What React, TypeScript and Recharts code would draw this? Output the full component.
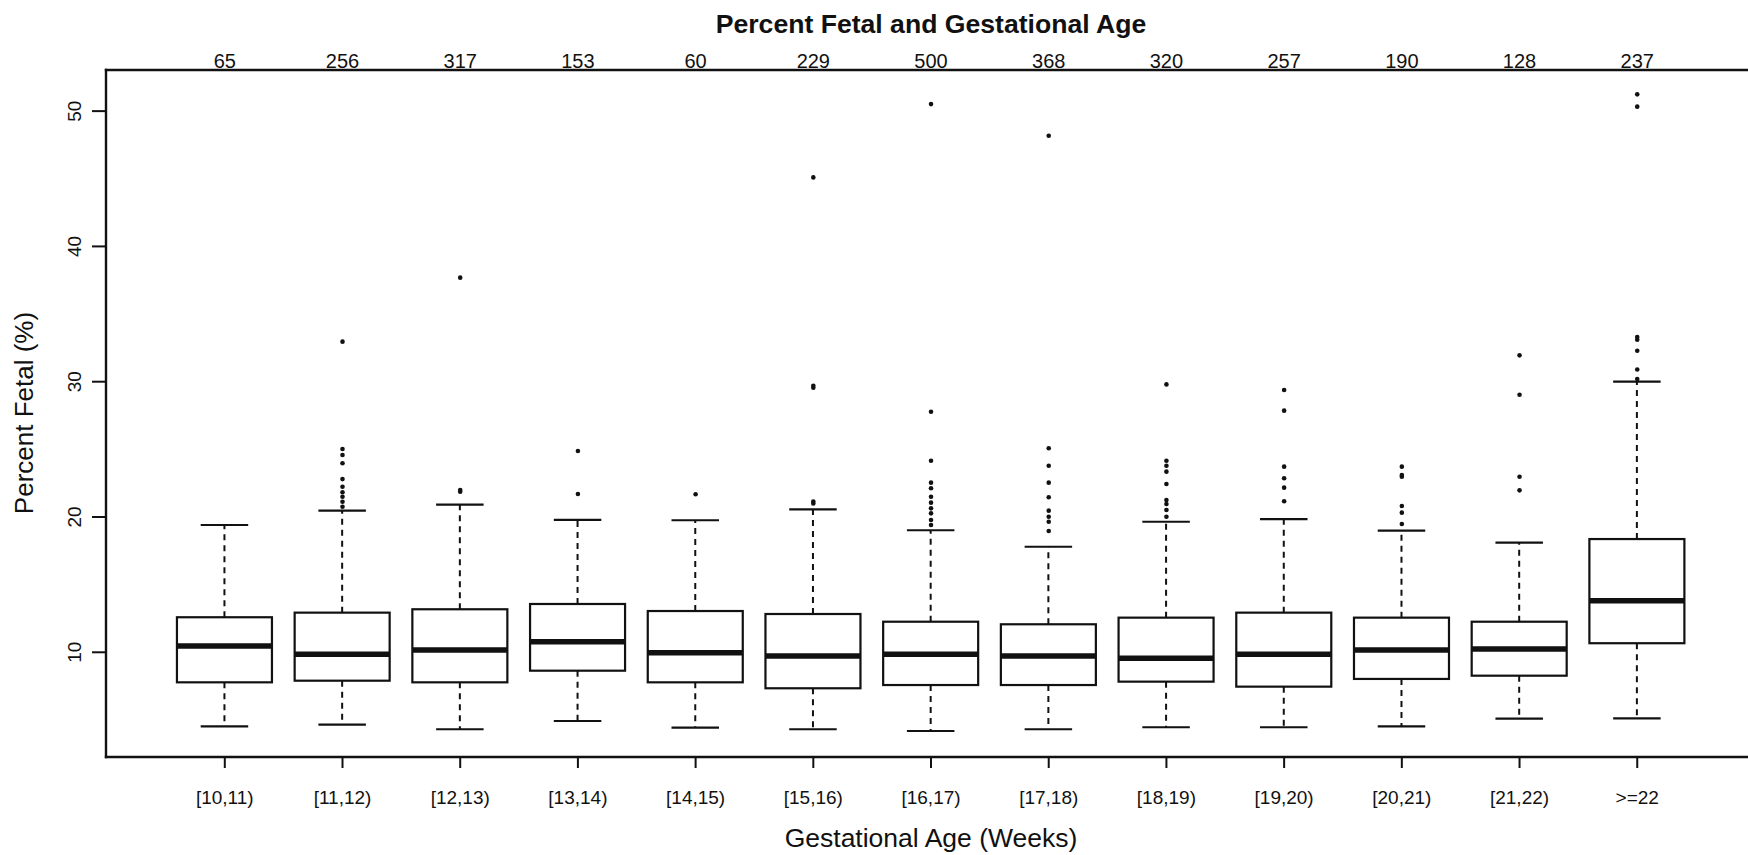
import React from "react";
import { ComposedChart, Bar, Scatter, XAxis, YAxis, Label } from "recharts";

const categories = [
  "[10,11)", "[11,12)", "[12,13)", "[13,14)", "[14,15)", "[15,16)", "[16,17)",
  "[17,18)", "[18,19)", "[19,20)", "[20,21)", "[21,22)", ">=22",
];
const counts = [65, 256, 317, 153, 60, 229, 500, 368, 320, 257, 190, 128, 237];

const lowerWhisker = [4.53, 4.65, 4.31, 4.92, 4.43, 4.31, 4.18, 4.31, 4.46, 4.46, 4.53, 5.09, 5.12];
const lowerQuartile = [7.78, 7.9, 7.78, 8.64, 7.78, 7.34, 7.58, 7.58, 7.83, 7.46, 8.03, 8.27, 10.67];
const medians = [10.47, 9.85, 10.17, 10.78, 9.97, 9.73, 9.85, 9.73, 9.56, 9.85, 10.17, 10.24, 13.81];
const upperQuartile = [12.59, 12.93, 13.18, 13.57, 13.05, 12.83, 12.26, 12.07, 12.56, 12.93, 12.56, 12.26, 18.37];
const upperWhisker = [19.41, 20.47, 20.91, 19.78, 19.76, 20.57, 19.02, 17.8, 19.65, 19.85, 18.99, 18.1, 30.0];

const outliers = [
  [],
  [32.96, 25.03, 24.58, 23.97, 22.8, 22.24, 21.83, 21.5, 21.13, 20.76],
  [37.69, 22.0, 21.87],
  [24.88, 21.7],
  [21.68],
  [45.1, 29.7, 29.55, 21.15, 21.0],
  [50.52, 27.78, 24.16, 22.54, 22.12, 21.5, 21.06, 20.64, 20.27, 19.78, 19.41],
  [48.18, 25.08, 23.79, 22.54, 21.46, 20.47, 20.02, 19.65, 18.96],
  [29.8, 24.16, 23.79, 23.35, 22.44, 21.26, 20.96, 20.52, 20.02],
  [29.39, 27.86, 23.72, 22.86, 22.17, 21.16],
  [23.72, 23.1, 22.98, 20.81, 20.32, 19.48],
  [31.95, 29.04, 22.98, 21.97],
  [51.24, 50.33, 33.3, 33.1, 32.29, 30.9, 30.2],
];

const yTicks = [10, 20, 30, 40, 50];

const positions = categories.map((_, i) => i + 1);

const boxData = categories.map((name, i) => ({
  pos: i + 1,
  name,
  box: [lowerQuartile[i], upperQuartile[i]],
  lo: lowerWhisker[i],
  q1: lowerQuartile[i],
  med: medians[i],
  q3: upperQuartile[i],
  hi: upperWhisker[i],
}));

const outlierData = outliers.flatMap((vals, i) => vals.map((v) => ({ pos: i + 1, val: v })));

const INK = "#111";
const FONT = "'Liberation Sans', Arial, Helvetica, sans-serif";
const W = 1748;
const H = 855;
const TITLE_X = 931;

function BoxShape(props: any) {
  const { x, y, width, height, payload } = props;
  if (!payload || width == null) return null;
  const top = Math.min(y, y + height);
  const h = Math.abs(height);
  const k = h / (payload.q3 - payload.q1);
  const py = (v: number) => top + (payload.q3 - v) * k;
  const cx = x + width / 2;
  const cap = width / 4;
  return (
    <g>
      <line x1={cx} x2={cx} y1={top} y2={py(payload.hi)} stroke={INK} strokeWidth={2} strokeDasharray="6 5" />
      <line x1={cx} x2={cx} y1={top + h} y2={py(payload.lo)} stroke={INK} strokeWidth={2} strokeDasharray="6 5" />
      <line x1={cx - cap} x2={cx + cap} y1={py(payload.hi)} y2={py(payload.hi)} stroke={INK} strokeWidth={2.2} />
      <line x1={cx - cap} x2={cx + cap} y1={py(payload.lo)} y2={py(payload.lo)} stroke={INK} strokeWidth={2.2} />
      <rect x={x} y={top} width={width} height={h} fill="#fff" stroke={INK} strokeWidth={2.2} />
      <line x1={x} x2={x + width} y1={py(payload.med)} y2={py(payload.med)} stroke={INK} strokeWidth={5.5} />
    </g>
  );
}

function OutlierDot(props: any) {
  const { cx, cy } = props;
  if (cx == null || cy == null) return null;
  return <circle cx={cx} cy={cy} r={2.3} fill={INK} />;
}

function BottomTick({ x, y, payload }: any) {
  return (
    <text x={x} y={y} dy={36} textAnchor="middle" fontSize={19} fontFamily={FONT} fill={INK}>
      {categories[payload.value - 1]}
    </text>
  );
}

function TopTick({ x, y, payload }: any) {
  return (
    <text x={x} y={y} dy={-1.8} textAnchor="middle" fontSize={20} fontFamily={FONT} fill={INK}>
      {counts[payload.value - 1]}
    </text>
  );
}

function LeftTick({ x, y, payload }: any) {
  const tx = x - 11;
  return (
    <text
      x={tx}
      y={y}
      transform={`rotate(-90, ${tx}, ${y})`}
      textAnchor="middle"
      fontSize={19}
      fontFamily={FONT}
      fill={INK}
    >
      {payload.value}
    </text>
  );
}

const frameLine = { stroke: INK, strokeWidth: 2.4, strokeLinecap: "square" as const };
const tickLine = { stroke: INK, strokeWidth: 2 };

export default function App() {
  return (
    <div style={{ position: "absolute", left: 0, top: 0, width: W, height: H, overflow: "hidden", background: "#fff" }}>
      <ComposedChart width={W} height={H} data={boxData} margin={{ top: 0, right: 0, bottom: 0, left: 0 }}>
        <XAxis
          xAxisId="bottom"
          dataKey="pos"
          type="number"
          domain={[-0.0093, 13.941]}
          allowDataOverflow
          ticks={positions}
          interval={0}
          height={98}
          tickSize={11}
          tickMargin={0}
          axisLine={frameLine}
          tickLine={tickLine}
          tick={<BottomTick />}
        >
          <Label
            content={() => (
              <text x={TITLE_X} y={847} textAnchor="middle" fontSize={26.5} fontFamily={FONT} fill={INK}>
                Gestational Age (Weeks)
              </text>
            )}
          />
        </XAxis>
        <XAxis
          xAxisId="top"
          orientation="top"
          dataKey="pos"
          type="number"
          domain={[-0.0093, 13.941]}
          allowDataOverflow
          ticks={positions}
          interval={0}
          height={70}
          tickSize={0}
          tickMargin={0}
          axisLine={frameLine}
          tickLine={false}
          tick={<TopTick />}
        >
          <Label
            content={() => (
              <text x={TITLE_X} y={33} textAnchor="middle" fontSize={26.6} fontWeight="bold" fontFamily={FONT} fill={INK}>
                Percent Fetal and Gestational Age
              </text>
            )}
          />
        </XAxis>
        <YAxis
          yAxisId="y"
          type="number"
          domain={[2.26, 53.04]}
          allowDataOverflow
          ticks={yTicks}
          interval={0}
          width={106}
          tickSize={14}
          tickMargin={0}
          axisLine={frameLine}
          tickLine={tickLine}
          tick={<LeftTick />}
        >
          <Label
            content={() => (
              <text
                x={33}
                y={413}
                transform="rotate(-90, 33, 413)"
                textAnchor="middle"
                fontSize={26}
                fontFamily={FONT}
                fill={INK}
              >
                Percent Fetal (%)
              </text>
            )}
          />
        </YAxis>
        <Bar
          xAxisId="bottom"
          yAxisId="y"
          dataKey="box"
          barSize={95}
          shape={<BoxShape />}
          isAnimationActive={false}
        />
        <Scatter
          xAxisId="bottom"
          yAxisId="y"
          data={outlierData}
          dataKey="val"
          shape={<OutlierDot />}
          isAnimationActive={false}
        />
      </ComposedChart>
    </div>
  );
}
